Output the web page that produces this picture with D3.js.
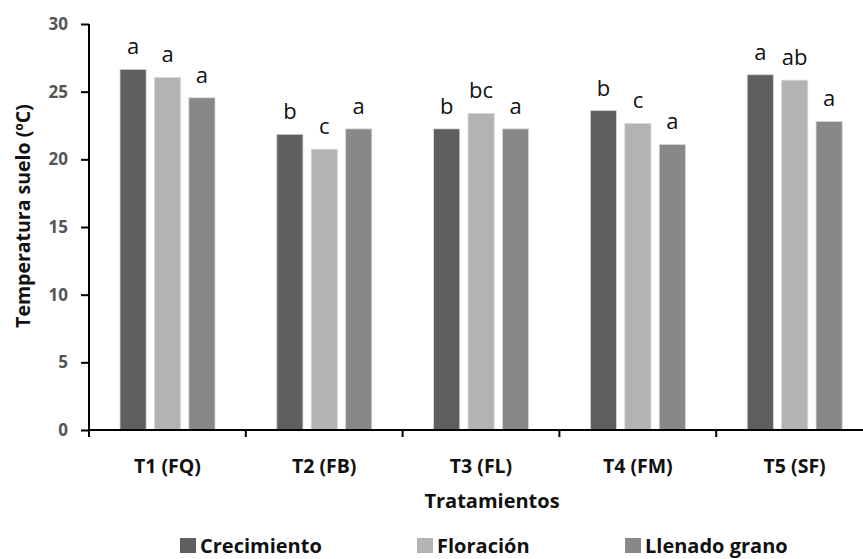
<!DOCTYPE html>
<html>
<head>
<meta charset="utf-8">
<script src="https://cdn.jsdelivr.net/npm/d3@7"></script>
<style>
  body { margin: 0; background: #fff; }
  svg { font-family: "Open Sans", sans-serif; }
</style>
</head>
<body>
<div id="chart"></div>
<script>
// data
var categories = ['T1 (FQ)', 'T2 (FB)', 'T3 (FL)', 'T4 (FM)', 'T5 (SF)'];
var seriesNames = ['Crecimiento', 'Floración', 'Llenado grano'];
var crecimiento = [26.65, 21.85, 22.25, 23.6, 26.25];
var floracion = [26.05, 20.75, 23.4, 22.65, 25.85];
var llenado = [24.55, 22.25, 22.25, 21.1, 22.8];
var letCrec = ['a', 'b', 'b', 'b', 'a'];
var letFlor = ['a', 'c', 'bc', 'c', 'ab'];
var letLlen = ['a', 'a', 'a', 'a', 'a'];
var yTicks = [0, 5, 10, 15, 20, 25, 30];

var colors = ['#5f5f5f', '#b3b3b3', '#888888'];
var values = [crecimiento, floracion, llenado];
var letters = [letCrec, letFlor, letLlen];

var width = 863, height = 559;
var margin = { top: 24, left: 89, right: 873 };

var svg = d3.select('#chart').append('svg')
  .attr('width', width)
  .attr('height', height);

var x = d3.scaleBand()
  .domain(categories)
  .range([margin.left, margin.right]);

var x1 = d3.scaleBand()
  .domain(d3.range(3))
  .range([31, 126])
  .paddingInner(0.24);

var y = d3.scaleLinear()
  .domain([0, 30])
  .range([430, margin.top]);

// bars
var rows = [];
categories.forEach(function (c, i) {
  for (var s = 0; s < 3; s++) {
    rows.push({ cat: c, s: s, v: values[s][i], lab: letters[s][i] });
  }
});

svg.selectAll('rect.bar')
  .data(rows)
  .enter().append('rect')
  .attr('class', 'bar')
  .attr('x', function (d) { return x(d.cat) + x1(d.s); })
  .attr('y', function (d) { return y(d.v); })
  .attr('width', x1.bandwidth())
  .attr('height', function (d) { return y(0) - y(d.v); })
  .attr('fill', function (d) { return colors[d.s]; })
  .attr('stroke', '#d8d8d8')
  .attr('stroke-width', 0.8);

svg.selectAll('text.lab')
  .data(rows)
  .enter().append('text')
  .attr('class', 'lab')
  .attr('x', function (d) { return x(d.cat) + x1(d.s) + x1.bandwidth() / 2; })
  .attr('y', function (d) { return y(d.v) - 15; })
  .attr('text-anchor', 'middle')
  .style('font-size', '22px')
  .style('fill', '#111')
  .text(function (d) { return d.lab; });

// y axis
var yAxis = svg.append('g')
  .attr('transform', 'translate(' + margin.left + ',0)')
  .call(d3.axisLeft(y).tickValues(yTicks).tickSize(8).tickPadding(13));
yAxis.selectAll('text')
  .style('font-size', '17px')
  .style('font-weight', 'bold')
  .style('fill', '#555')
  .style('font-family', '"Open Sans", sans-serif');
yAxis.selectAll('line, path').attr('stroke', '#000').attr('stroke-width', 2);
yAxis.select('.domain').attr('d', 'M0,' + y(30) + 'V' + y(0));

// x axis
var xAxis = svg.append('g')
  .attr('transform', 'translate(0,' + y(0) + ')')
  .call(d3.axisBottom(x).tickSize(0).tickPadding(29));
xAxis.selectAll('text')
  .style('font-size', '19.5px')
  .style('font-weight', 'bold')
  .style('fill', '#111')
  .style('font-family', '"Open Sans", sans-serif');
xAxis.select('.domain').attr('stroke', '#000').attr('stroke-width', 2)
  .attr('d', 'M' + margin.left + ',0H' + margin.right);
xAxis.selectAll('line.sep')
  .data(categories)
  .enter().append('line')
  .attr('class', 'sep')
  .attr('x1', function (d) { return x(d); })
  .attr('x2', function (d) { return x(d); })
  .attr('y1', 0)
  .attr('y2', 7)
  .attr('stroke', '#000')
  .attr('stroke-width', 2);

// axis titles
svg.append('text')
  .attr('x', 492)
  .attr('y', 508)
  .attr('text-anchor', 'middle')
  .style('font-size', '20px')
  .style('font-weight', 'bold')
  .style('fill', '#111')
  .text('Tratamientos');

svg.append('text')
  .attr('transform', 'translate(30,216) rotate(-90)')
  .attr('text-anchor', 'middle')
  .style('font-size', '19.5px')
  .style('font-weight', 'bold')
  .style('fill', '#111')
  .text('Temperatura suelo (ºC)');

// legend
var legendX = [180, 417, 625];
var leg = svg.selectAll('g.leg')
  .data(seriesNames)
  .enter().append('g')
  .attr('class', 'leg')
  .attr('transform', function (d, i) { return 'translate(' + legendX[i] + ',538)'; });
leg.append('rect')
  .attr('width', 16)
  .attr('height', 15)
  .attr('fill', function (d, i) { return colors[i]; });
leg.append('text')
  .attr('x', 20)
  .attr('y', 15)
  .style('font-size', '20px')
  .style('font-weight', 'bold')
  .style('fill', '#111')
  .text(function (d) { return d; });
</script>
</body>
</html>
